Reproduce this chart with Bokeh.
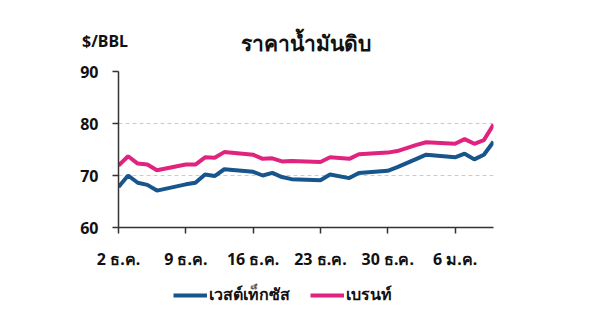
import pandas as pd
from bokeh.plotting import figure
from bokeh.layouts import column
from bokeh.models import (ColumnDataSource, FixedTicker, Legend, LegendItem, Range1d, Div)
from bokeh.embed import file_html
from bokeh.resources import INLINE

dates = ["2024-12-02", "2024-12-03", "2024-12-04", "2024-12-05", "2024-12-06",
         "2024-12-09", "2024-12-10", "2024-12-11", "2024-12-12", "2024-12-13",
         "2024-12-16", "2024-12-17", "2024-12-18", "2024-12-19", "2024-12-20",
         "2024-12-23", "2024-12-24", "2024-12-26", "2024-12-27",
         "2024-12-30", "2024-12-31", "2025-01-02", "2025-01-03",
         "2025-01-06", "2025-01-07", "2025-01-08", "2025-01-09", "2025-01-10"]
wti = [67.8, 70.0, 68.6, 68.2, 67.1, 68.3, 68.6, 70.2, 69.9, 71.2,
       70.7, 70.0, 70.5, 69.7, 69.3, 69.1, 70.2, 69.5, 70.5, 70.9,
       71.6, 73.2, 74.0, 73.5, 74.2, 73.1, 74.0, 76.5]
brent = [71.9, 73.7, 72.3, 72.1, 71.0, 72.1, 72.1, 73.5, 73.4, 74.5,
         74.0, 73.2, 73.3, 72.7, 72.8, 72.6, 73.5, 73.2, 74.1, 74.4,
         74.7, 75.9, 76.4, 76.1, 77.0, 76.1, 76.8, 79.8]
tick_dates = ["2024-12-02", "2024-12-09", "2024-12-16", "2024-12-23", "2024-12-30", "2025-01-06"]
tick_labels = ["2 ธ.ค.", "9 ธ.ค.", "16 ธ.ค.", "23 ธ.ค.", "30 ธ.ค.", "6 ม.ค."]
y_ticks = [60, 70, 80, 90]
series_names = ["เวสต์เท็กซัส", "เบรนท์"]
title_text = "ราคาน้ำมันดิบ"
unit_text = "$/BBL"

start = pd.Timestamp(dates[0])
day = [(pd.Timestamp(d) - start).days for d in dates]
tick_days = [(pd.Timestamp(d) - start).days for d in tick_dates]

FONT = "Noto Sans"
BLUE = "#17558c"
PINK = "#e0237f"
HEADER_H = 60
FOOTER_H = 37
BOTTOM = 50

# ---- header: unit + title
head_html = (
    f'<div style="position:relative;width:600px;height:{HEADER_H}px;'
    f"font-family:'{FONT}';font-weight:bold;color:#111111;\">"
    f'<div style="position:absolute;left:55px;width:100px;top:31px;text-align:center;'
    f'font-size:16px;line-height:20px;">{unit_text}</div>'
    f'<div style="position:absolute;left:206px;width:200px;top:28px;text-align:center;'
    f'font-size:21px;line-height:30px;">{title_text}</div>'
    '</div>'
)
head = Div(text=head_html, width=600, height=HEADER_H, margin=0, disable_math=True)

# ---- main chart
src = ColumnDataSource(dict(x=day, wti=wti, brent=brent))
p = figure(frame_width=375, frame_height=156, output_backend="svg", toolbar_location=None,
           x_range=Range1d(0, max(day)), y_range=Range1d(60, 90),
           min_border_left=118, min_border_right=107, min_border_top=71 - HEADER_H,
           min_border_bottom=BOTTOM)
p.outline_line_color = None

p.line("x", "wti", source=src, line_color=BLUE, line_width=4)
p.line("x", "brent", source=src, line_color=PINK, line_width=4)

p.xgrid.grid_line_color = None
p.ygrid.grid_line_color = "#cccccc"
p.ygrid.grid_line_dash = "4 3"
p.ygrid.grid_line_width = 1
p.ygrid.ticker = FixedTicker(ticks=y_ticks)

p.yaxis.ticker = FixedTicker(ticks=y_ticks)
p.xaxis.ticker = FixedTicker(ticks=tick_days)
p.xaxis.major_label_overrides = {d: l for d, l in zip(tick_days, tick_labels)}
for ax in (p.xaxis, p.yaxis):
    ax.axis_line_color = "#333333"
    ax.axis_line_width = 1.5
    ax.major_tick_line_color = "#333333"
    ax.major_tick_line_width = 1.5
    ax.major_tick_out = 6
    ax.major_tick_in = 0
    ax.minor_tick_line_color = None
    ax.major_label_text_font = FONT
    ax.major_label_text_font_style = "bold"
    ax.major_label_text_font_size = "16px"
    ax.major_label_text_color = "#111111"
p.yaxis.major_label_standoff = 14
p.xaxis.major_label_standoff = 14

# ---- footer with legend
foot = figure(width=600, height=FOOTER_H, output_backend="svg", toolbar_location=None,
              x_range=Range1d(0, max(day)), y_range=Range1d(0, 1),
              x_axis_location=None, y_axis_location=None,
              min_border_left=118, min_border_right=107, min_border_top=0, min_border_bottom=0)
foot.outline_line_color = None
foot.grid.visible = False
f1 = foot.line("x", "wti", source=src, line_color=BLUE, line_width=4, visible=False)
f2 = foot.line("x", "brent", source=src, line_color=PINK, line_width=4, visible=False)
legend = Legend(items=[LegendItem(label=series_names[0], renderers=[f1]),
                       LegendItem(label=series_names[1], renderers=[f2])],
                orientation="horizontal", location=(55, 7),
                label_text_font=FONT, label_text_font_style="bold",
                label_text_font_size="16px", label_text_color="#111111",
                glyph_width=34, glyph_height=16, label_standoff=2, spacing=20,
                padding=0, margin=0, border_line_color=None, background_fill_alpha=0,
                inactive_fill_alpha=0)
foot.add_layout(legend, "center")

layout = column(head, p, foot, spacing=0)
open("out.html", "w").write(file_html(layout, INLINE))
